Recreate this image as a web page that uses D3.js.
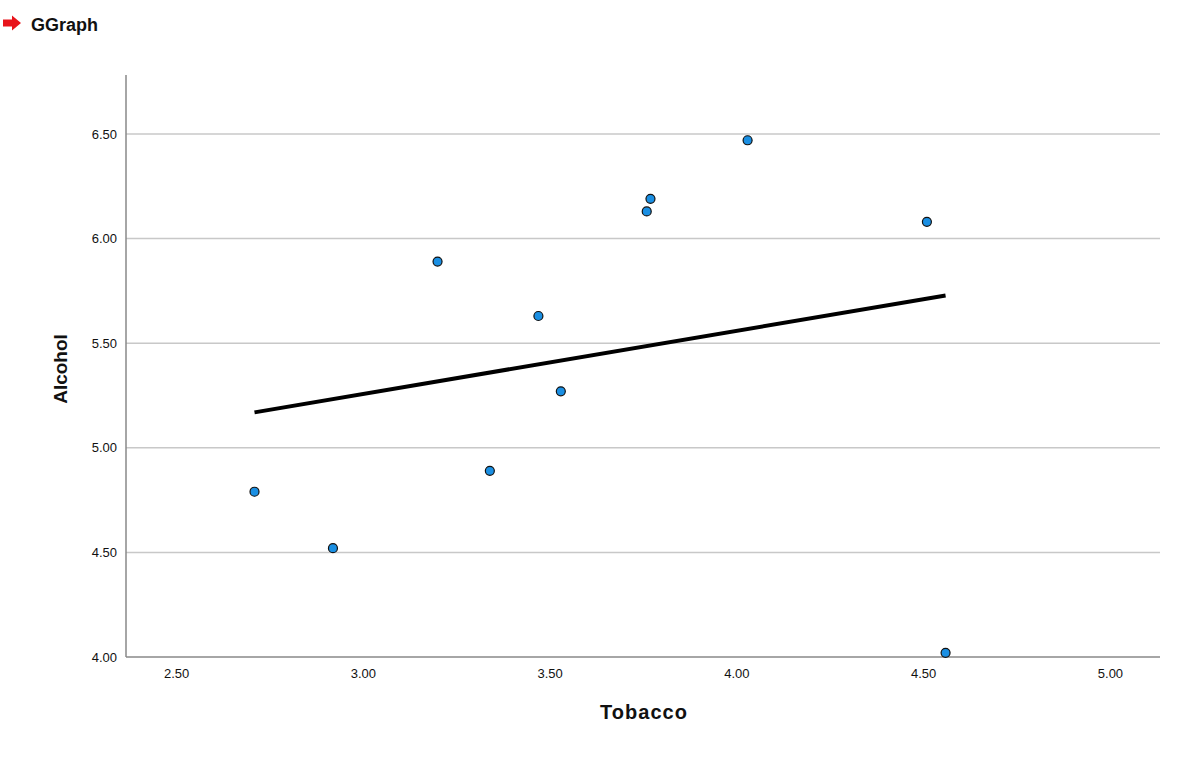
<!DOCTYPE html>
<html><head><meta charset="utf-8">
<script src="https://cdn.jsdelivr.net/npm/d3@7"></script>
<style>body{margin:0;background:#fff;} svg{display:block;font-family:"Liberation Sans",Arial,sans-serif;}</style>
</head><body><svg id="c" width="1200" height="765"></svg>
<script>
const tobacco = [4.03, 3.76, 3.77, 3.34, 3.47, 2.92, 3.20, 2.71, 3.53, 4.51, 4.56];
const alcohol = [6.47, 6.13, 6.19, 4.89, 5.63, 4.52, 5.89, 4.79, 5.27, 6.08, 4.02];
const xTicks = [2.5, 3.0, 3.5, 4.0, 4.5, 5.0];
const yTicks = [4.0, 4.5, 5.0, 5.5, 6.0, 6.5];

const svg = d3.select("#c");
const L = 126, R = 1160, T = 75, B = 657;
const x = d3.scaleLinear().domain([2.366, 5.134]).range([L, R]);
const y = d3.scaleLinear().domain([4.0, 6.782]).range([B, T]);

// title
svg.append("path").attr("d", "M3,19.5 L12,19.5 L12,15.5 L21,23 L12,30.5 L12,26.5 L3,26.5 Z").attr("fill", "#e8141b");
svg.append("text").attr("x", 31).attr("y", 31).attr("font-size", 18).attr("font-weight", "bold").attr("fill", "#111").text("GGraph");

// gridlines
svg.append("g").selectAll("line").data(yTicks.filter(d => d > 4.0)).join("line")
  .attr("x1", L).attr("x2", R).attr("y1", d => y(d)).attr("y2", d => y(d))
  .attr("stroke", "#c8c8c8").attr("stroke-width", 1.5);

// axes
const xAxis = svg.append("g").attr("transform", `translate(0,${B})`)
  .call(d3.axisBottom(x).tickValues(xTicks).tickFormat(d3.format(".2f")).tickSize(0).tickPadding(12));
xAxis.select(".domain").attr("stroke", "#888").attr("stroke-width", 1.5).attr("d", `M${L},0H${R}`);
xAxis.selectAll("text").attr("font-size", 13).attr("fill", "#111").attr("font-family", "Liberation Sans, Arial, sans-serif");

const yAxis = svg.append("g").attr("transform", `translate(${L},0)`)
  .call(d3.axisLeft(y).tickValues(yTicks).tickFormat(d3.format(".2f")).tickSize(0).tickPadding(9));
yAxis.select(".domain").attr("stroke", "#888").attr("stroke-width", 1.5).attr("d", `M0,${T}V${B}`);
yAxis.selectAll("text").attr("font-size", 13).attr("fill", "#111").attr("font-family", "Liberation Sans, Arial, sans-serif");

// axis titles
svg.append("text").attr("x", 644).attr("y", 719).attr("text-anchor", "middle")
  .attr("font-size", 20).attr("letter-spacing", 1).attr("font-weight", "bold").attr("fill", "#111").text("Tobacco");
svg.append("text").attr("transform", `translate(67,${(T+B)/2+3}) rotate(-90)`).attr("text-anchor", "middle")
  .attr("font-size", 19).attr("font-weight", "bold").attr("fill", "#111").text("Alcohol");

// regression line (least squares fit)
const mx = d3.mean(tobacco), my = d3.mean(alcohol);
const slope = d3.sum(tobacco, (t, i) => (t - mx) * (alcohol[i] - my)) / d3.sum(tobacco, t => (t - mx) ** 2);
const icpt = my - slope * mx;
const ext = d3.extent(tobacco);
svg.append("line")
  .attr("x1", x(ext[0])).attr("y1", y(icpt + slope * ext[0]))
  .attr("x2", x(ext[1])).attr("y2", y(icpt + slope * ext[1]))
  .attr("stroke", "#000").attr("stroke-width", 4);

// points
svg.append("g").selectAll("circle").data(tobacco.map((t, i) => [t, alcohol[i]])).join("circle")
  .attr("cx", d => x(d[0])).attr("cy", d => y(d[1])).attr("r", 4.5)
  .attr("fill", "#1a8fe3").attr("stroke", "#111").attr("stroke-width", 1.2);
</script></body></html>
